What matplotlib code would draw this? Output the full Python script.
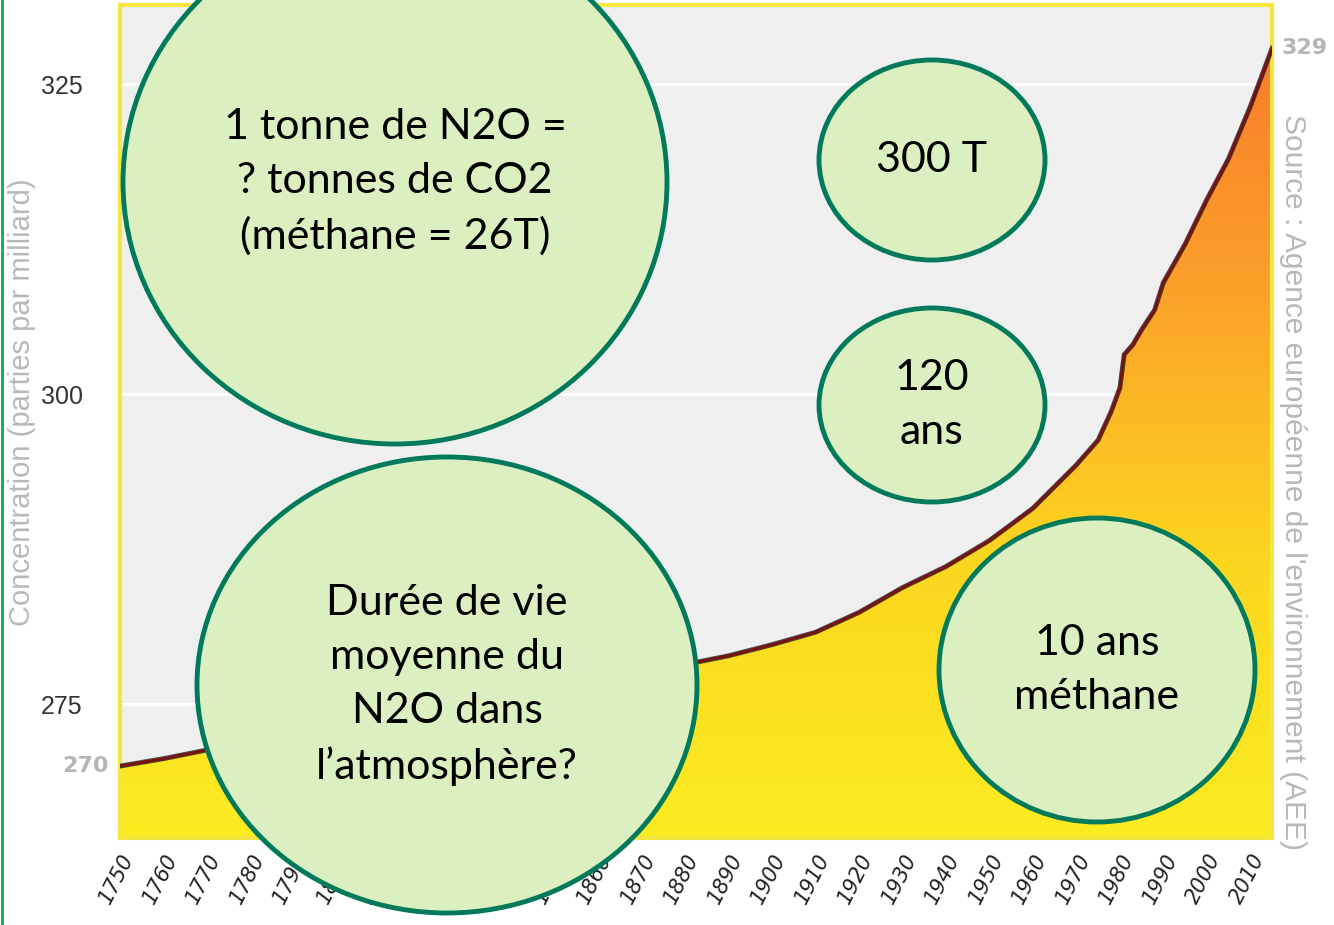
import numpy as np
import matplotlib.pyplot as plt
from matplotlib.patches import Ellipse
from matplotlib.colors import LinearSegmentedColormap

# Concentration de N2O (ppb)
annees = [1750, 1760, 1770, 1780, 1790, 1800, 1810, 1820, 1830, 1840, 1850,
          1860, 1870, 1880, 1890, 1900, 1910, 1920, 1930, 1940, 1950, 1960,
          1970, 1975, 1978, 1980, 1981, 1983, 1985, 1988, 1990, 1995, 2000,
          2005, 2010, 2015]
valeurs = [270.0, 270.6, 271.3, 272.0, 272.7, 273.4, 274.1, 274.8, 275.5,
           276.1, 276.7, 277.2, 277.7, 278.2, 278.9, 279.8, 280.8, 282.4,
           284.4, 286.1, 288.2, 290.8, 294.3, 296.3, 298.6, 300.5, 303.2,
           304.0, 305.2, 306.8, 309.0, 312.1, 315.7, 319.0, 323.2, 327.9]

ticks_x = list(range(1750, 2011, 10))
ticks_y = [275, 300, 325]

bulles = [
    # (cx, cy, rx, ry) en pixels, texte
    ((395, 182, 272, 262), "1 tonne de N2O =\n? tonnes de CO2\n(méthane = 26T)"),
    ((932, 160, 113, 100), "300 T"),
    ((932, 405, 113, 97), "120\nans"),
    ((1097, 670, 158, 152), "10 ans\nméthane"),
    ((447, 685, 250, 228), "Durée de vie\nmoyenne du\nN2O dans\nl’atmosphère?"),
]

etroite = ['Liberation Sans Narrow', 'Liberation Sans', 'DejaVu Sans']

W, H = 1334, 925
fig = plt.figure(figsize=(W / 100, H / 100), dpi=100)
fig.patch.set_facecolor('white')
ax = fig.add_axes([120 / W, 1 - 838 / H, 1152 / W, 833 / H])
ax.set_facecolor('#EFEFEF')

ax.set_xlim(1750, 2015)
ax.set_ylim(264.2, 331.4)

# lignes de grille blanches
for v in ticks_y:
    ax.axhline(v, color='white', lw=2.2, zorder=1)

# remplissage en dégradé
poly = ax.fill_between(annees, valeurs, 264.2, color='none', zorder=2)
cmap = LinearSegmentedColormap.from_list('n2o', ['#FBEC22', '#FCD61F', '#FBA02A', '#F9762B'])
grad = np.linspace(0, 1, 256).reshape(-1, 1)
img = ax.imshow(grad, extent=[1750, 2015, 264.2, 331.4], origin='lower',
                cmap=cmap, aspect='auto', zorder=2)
img.set_clip_path(poly.get_paths()[0], transform=ax.transData)

# courbe avec ombre
ax.plot(annees, valeurs, color='#222222', lw=3.5, zorder=3, alpha=0.8)
ax.plot(annees, valeurs, color='#7A1010', lw=2.0, zorder=4)

for s in ax.spines.values():
    s.set_color('#F3E640')
    s.set_linewidth(3)

ax.set_yticks(ticks_y)
ax.set_yticklabels([str(t) for t in ticks_y], family=etroite, fontsize=18,
                   color='#333333')
ax.tick_params(axis='y', length=0, pad=27)

ax.set_xticks(ticks_x)
ax.set_xticklabels([str(t) for t in ticks_x], rotation=63, ha='right',
                   rotation_mode='anchor', fontsize=15, style='italic',
                   color='#222222')
ax.tick_params(axis='x', length=0, pad=9)

ax.text(-0.01, 270, '270', transform=ax.get_yaxis_transform(), ha='right',
        va='center', fontsize=16, color='#B5B5B5', fontweight='bold')
ax.text(1.008, valeurs[-1], '329', transform=ax.get_yaxis_transform(), ha='left',
        va='center', fontsize=16, color='#B5B5B5', fontweight='bold')

fig.text(22 / W, 1 - 402 / H, 'Concentration (parties par milliard)',
         rotation=90, ha='center', va='center', fontsize=21,
         color='#B8B8B8', family=etroite)
fig.text(1293 / W, 1 - 482 / H, 'Source : Agence européenne de l\'environnement (AEE)',
         rotation=-90, ha='center', va='center', fontsize=21.5,
         color='#B8B8B8', family=etroite)

# trait vert à gauche
fig.add_artist(plt.Line2D([2 / W, 2 / W], [0, 1], color='#00B050', lw=2,
                          transform=fig.transFigure))

for (cx, cy, rx, ry), txt in bulles:
    e = Ellipse((cx / W, 1 - cy / H), 2 * rx / W, 2 * ry / H,
                transform=fig.transFigure, facecolor='#DCEFC0',
                edgecolor='#007A5A', lw=3.5, zorder=5)
    fig.add_artist(e)
    fig.text(cx / W, 1 - cy / H, txt, ha='center', va='center', fontsize=31,
             family='Lato', color='black', linespacing=1.52, zorder=6)

plt.savefig('out.png', dpi=100)
